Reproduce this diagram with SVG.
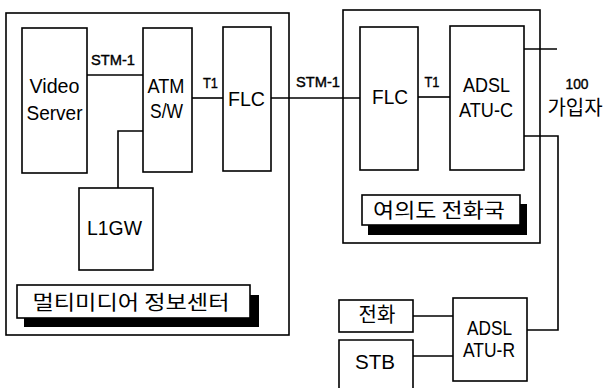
<svg xmlns="http://www.w3.org/2000/svg" width="603" height="388" viewBox="0 0 603 388">
<style>
.box{fill:#fff;stroke:#000;stroke-width:1.6}
.sh{fill:#000}
.ln{fill:none;stroke:#000;stroke-width:1.6}
.t{font-family:"Liberation Sans",Arial,sans-serif;font-size:21px;fill:#000;text-anchor:middle}
.s{font-family:"Liberation Sans",Arial,sans-serif;font-size:15px;fill:#000;stroke:#000;stroke-width:0.4;text-anchor:middle}
.k{font-family:"Noto Sans CJK KR","Noto Sans",sans-serif;font-size:20px;fill:#000;text-anchor:middle}
</style>
<g id="multimedia-center">
<rect class="box" x="6" y="13" width="283" height="322"/>
<rect class="sh" x="24" y="295" width="235" height="32"/>
<rect class="box" x="17" y="285" width="233" height="33"/>
<text class="k" x="131" y="310" font-size="21" textLength="197" lengthAdjust="spacingAndGlyphs">멀티미디어 정보센터</text>
</g>
<g id="yeouido-office">
<rect class="box" x="343" y="10" width="197" height="233"/>
<rect class="sh" x="368" y="204" width="159" height="31"/>
<rect class="box" x="362" y="195" width="158" height="30"/>
<text class="k" x="439" y="218" textLength="132" lengthAdjust="spacingAndGlyphs">여의도 전화국</text>
</g>
<g id="video-server">
<rect class="box" x="22" y="28" width="65" height="145"/>
<text class="t" x="54.500" y="93" textLength="50" lengthAdjust="spacingAndGlyphs">Video</text>
<text class="t" x="54.500" y="120" textLength="56" lengthAdjust="spacingAndGlyphs">Server</text>
</g>
<g id="atm-sw">
<rect class="box" x="143" y="28" width="49" height="144"/>
<text class="t" x="166" y="93" textLength="37" lengthAdjust="spacingAndGlyphs">ATM</text>
<text class="t" x="166.500" y="118" textLength="33" lengthAdjust="spacingAndGlyphs">S/W</text>
</g>
<g id="flc-left">
<rect class="box" x="223" y="27" width="48" height="144"/>
<text class="t" x="246.500" y="106" textLength="37" lengthAdjust="spacingAndGlyphs">FLC</text>
</g>
<g id="l1gw">
<rect class="box" x="79" y="188" width="74" height="82"/>
<text class="t" x="114.500" y="235" textLength="55" lengthAdjust="spacingAndGlyphs">L1GW</text>
</g>
<g id="flc-right">
<rect class="box" x="360" y="27" width="58" height="143"/>
<text class="t" x="390" y="104" textLength="36" lengthAdjust="spacingAndGlyphs">FLC</text>
</g>
<g id="atu-c">
<rect class="box" x="450" y="26" width="74" height="144"/>
<text class="t" x="486.500" y="92" textLength="47" lengthAdjust="spacingAndGlyphs">ADSL</text>
<text class="t" x="486" y="117" textLength="54" lengthAdjust="spacingAndGlyphs">ATU-C</text>
</g>
<g id="phone">
<rect class="box" x="339" y="300" width="74" height="32"/>
<text class="k" x="377" y="322" font-size="22">전화</text>
</g>
<g id="stb">
<path class="box" d="M339,390 V340 H413 V390"/>
<text class="t" x="375" y="369" textLength="40" lengthAdjust="spacingAndGlyphs">STB</text>
</g>
<g id="atu-r">
<rect class="box" x="453" y="298" width="74" height="83"/>
<text class="t" x="489.500" y="335" textLength="45" lengthAdjust="spacingAndGlyphs">ADSL</text>
<text class="t" x="489" y="357" textLength="52" lengthAdjust="spacingAndGlyphs">ATU-R</text>
</g>
<g id="subscribers">
<text class="s" x="577" y="89" font-size="13" textLength="23" lengthAdjust="spacingAndGlyphs">100</text>
<text class="k" x="575" y="115" font-size="18">가입자</text>
</g>
<g id="connectors">
<path class="ln" d="M87,75 H143"/>
<path class="ln" d="M192,98 H223"/>
<path class="ln" d="M143,131 H118 V188"/>
<path class="ln" d="M271,98 H360"/>
<path class="ln" d="M418,97 H450"/>
<path class="ln" d="M524,49 H557"/>
<path class="ln" d="M524,136 H558 V330 H527"/>
<path class="ln" d="M413,316 H453"/>
<path class="ln" d="M413,356 H453"/>
<text class="s" x="113" y="65" textLength="44" lengthAdjust="spacingAndGlyphs">STM-1</text>
<text class="s" x="210.500" y="88" textLength="15" lengthAdjust="spacingAndGlyphs">T1</text>
<text class="s" x="318" y="87" textLength="44" lengthAdjust="spacingAndGlyphs">STM-1</text>
<text class="s" x="432" y="87" textLength="15" lengthAdjust="spacingAndGlyphs">T1</text>
</g>
</svg>
